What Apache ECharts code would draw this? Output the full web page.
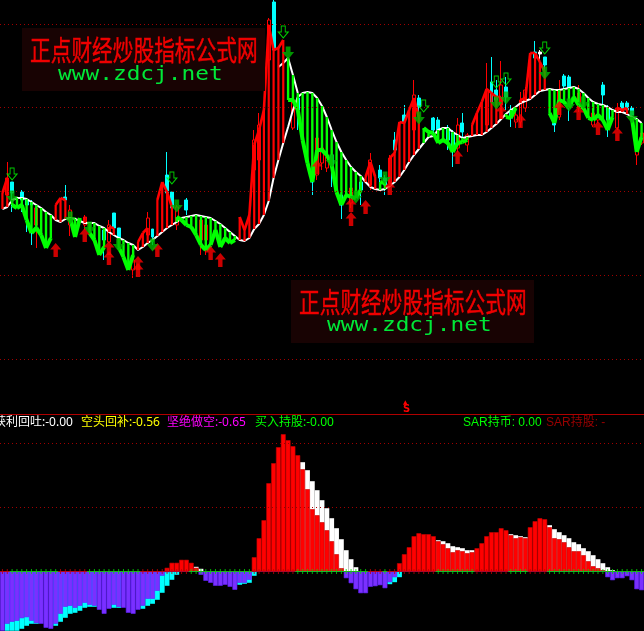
<!DOCTYPE html>
<html><head><meta charset="utf-8">
<style>html,body{margin:0;padding:0;background:#000}#c{width:644px;height:631px}</style>
<script src="https://cdn.jsdelivr.net/npm/echarts@6/dist/echarts.min.js"></script>
</head><body><div id="c"></div>
<script>
// ---- upper panel: index levels, one per trading bar ----
const whiteLine = [206,208,215,217,217,216,213,210,207,203,
200,195,193,196,197,196,194,192,192,192,
189,187,183,180,177,175,172,170,165,168,
172,175,179,183,187,190,193,197,198,199,
200,199,198,197,194,191,187,183,179,175,
174,177,186,191,200,214,237,255,272,288,
305,318,322,323,322,317,309,298,285,273,
263,255,248,243,239,233,228,226,225,226,
229,233,238,245,253,260,266,272,278,279,
285,287,287,283,280,277,278,279,280,280,
283,287,291,296,301,305,308,312,314,316,
320,324,325,326,325,325,326,327,328,326,
322,317,313,311,310,308,305,303,303,301,
298,296,292];
const whiteAltIdx = [57,58,59,60,61];
const whiteAltLevel = [348,352,357,340,322];
const zigLine = [222,237,210,207,210,195,182,187,180,167,
177,210,217,215,197,178,197,198,182,175,
160,168,188,187,168,158,145,160,173,182,
187,173,215,233,223,208,198,195,190,188,
180,170,165,170,185,168,177,172,175,198,
185,200,270,285,305,390,365,367,375,315,
315,305,275,252,233,265,265,260,250,223,
210,220,218,217,225,238,253,238,233,232,
257,262,293,292,305,317,298,287,283,282,
272,275,272,263,272,273,275,290,302,313,
326,322,318,318,298,297,307,315,317,362,
362,353,343,302,292,315,313,307,318,310,
307,297,295,300,295,285,298,307,305,307,
297,263,278];
const trend = "rr"+"ggggggggg"+"rrr"+"ggg"+"r"+"gggg"+"rr"+"gggg"+"rrr"+"g"+"rrrr"+"ggggggggggggg"+"rrrrrrrrrr"+"gggggggggggggggg"+"rrr"+"gg"+"rrrrrrr"+"gggggggggg"+"rrrrrrr"+"ggg"+"rrrrrr"+"gggggggggggggg"+"rrr"+"ggg";

const candleIdx = [1,2,4,5,6,7,13,14,17,21,22,23,24,27,30,31,34,35,36,38,41,42,52,53,55,56,60,61,64,65,66,67,68,70,72,74,76,78,79,80,81,83,85,86,89,90,92,93,94,95,96,100,101,102,103,104,105,106,107,108,110,111,112,114,115,116,117,119,122,123,124,125,127,128,129,130,131,132];
const candleKinds = ["r","c","c","c","c","r","c","r","r","c","r","c","c","r","r","c","c","c","r","c","r","r","r","r","r","c","r","c","c","r","r","r","c","c","r","c","r","c","c","r","c","c","r","c","c","c","c","c","r","c","r","r","c","c","r","c","c","r","r","r","c","w","c","c","r","c","c","r","r","r","c","c","r","c","c","c","r","r"];
const candleHigh = [253,233,225,217,215,210,230,210,200,187,195,202,185,165,203,186,263,223,210,217,200,197,285,302,397,415,315,320,245,278,270,265,265,225,228,235,262,250,240,260,283,310,335,320,298,298,290,285,297,302,282,352,358,335,354,338,310,307,323,328,374,365,358,300,335,341,340,330,307,305,333,310,312,314,314,309,278,288];
const candleTop = [237,233,223,215,213,207,218,205,198,185,190,202,187,155,197,186,240,223,208,215,195,190,275,290,395,413,313,317,243,277,267,258,260,220,227,233,255,245,237,257,275,300,320,317,297,295,287,282,290,292,280,325,333,325,330,328,305,300,315,325,363,363,358,297,325,339,338,322,302,300,330,307,307,312,312,307,272,282];
const candleBottom = [220,222,215,210,210,190,215,190,190,175,173,187,177,145,180,178,222,207,190,205,175,175,245,255,355,365,287,305,233,240,252,247,250,210,212,225,230,237,230,232,265,293,285,308,285,285,275,265,267,283,270,290,313,315,310,318,297,293,293,307,357,361,350,290,298,329,327,307,290,295,320,295,287,305,305,300,260,272];
const candleLow = [218,203,203,183,170,167,210,179,185,155,172,183,175,137,170,170,215,200,185,200,160,160,215,215,325,360,285,285,220,235,245,243,228,196,207,210,225,225,220,227,255,290,275,300,280,280,265,248,263,275,263,285,305,300,305,305,288,287,288,303,350,342,340,283,295,327,294,303,288,292,307,278,285,302,302,298,250,270];

const hollowIdx = [2,35,58,87,102,104,112];
const hollowLevel = [241,237,383,309,333,336,367];
const solidIdx = [2,14,18,24,31,36,59,68,73,79,86,102,104,112,117,120,130];
const solidLevel = [218,197,187,170,170,209,362,254,218,237,297,312,317,342,310,312,298];
const upIdx = [11,17,22,22,28,28,32,43,45,65,72,72,75,80,94,103,107,115,119,123,127];
const upLevel = [165,180,167,157,152,145,165,162,155,248,210,196,208,227,258,303,294,307,302,287,281];
const upperGridLevels = [391,307.5,223.5,139.5,55.5];

// ---- lower panel: histogram values ----
const redBars = [0,0,0,0,0,0,0,0,0,0,
0,0,0,0,0,0,0,0,0,0,
0,0,0,0,0,0,0,0,0,0,
0,0,0,0,3.7,8.7,8.7,11.7,11.7,8.7,
3.7,0,0,0,0,0,0,0,0,0,
0,0,14.3,33.3,51.3,88.3,108.3,124.3,137.3,131.3,
125.3,116.3,102.3,82.3,62.3,56.3,49.3,41.3,30.3,17.3,
3.3,0,0,0,0,0,0,0,0,0,
0,0,8.3,17.3,24.3,35.3,38.3,37.3,37.3,35.3,
30.3,27.3,23.3,19.3,21.3,20.3,18.3,19.3,23.3,28.3,
35.3,39.3,39.3,43.3,41.3,36.3,33.3,34.3,33.3,44.3,
50.3,53.3,52.3,44.3,33.3,32.3,29.3,24.3,20.3,20.3,
16.3,10.3,5.3,3.3,1.3,0,0,0,0,0,
0,0,0];
const whiteBars = [0,0,0,0,0,0,0,0,0,0,
0,0,0,0,0,0,0,0,0,0,
0,0,0,0,0,0,0,0,0,0,
0,0,0,0,0,0,0,0,0,0,
4.7,2.7,0,0,0,0,0,0,0,0,
0,0,0,0,0,0,0,0,0,0,
0,0,109.3,101.3,90.3,81.3,71.3,63.3,53.3,43.3,
32.3,21.3,12.3,4.3,0,0,0,0,0,0,
0,0,0,0,0,0,0,0,0,0,
31.3,30.3,28.3,25.3,24.3,23.3,21.3,21.3,0,0,
0,0,0,0,0,37.3,36.3,35.3,34.3,0,
0,0,0,46.3,42.3,39.3,36.3,33.3,29.3,27.3,
23.3,20.3,16.3,12.3,8.3,4.3,1.3,0,0,0,
0,0,0];
const purpleBars = [-59.3,-52.3,-50.3,-49.3,-46.7,-45.7,-49.3,-51.7,-52.3,-56.3,
-57.3,-52.3,-42.3,-35.3,-34.3,-36.3,-34.3,-31.3,-33.3,-34.3,
-38.3,-42.3,-37.3,-33.3,-35.3,-36.3,-41.3,-42.3,-38.3,-34.3,
-27.3,-27.3,-19.3,-4.3,-0.5,0,0,0,0,0,
0,-3.3,-9.3,-11.3,-14.3,-14.3,-13.3,-15.3,-18.3,-11.3,
-11.3,-8.3,0,0,0,0,0,0,0,0,
0,0,0,0,0,0,0,0,0,0,
0,-6.7,-11.7,-17.7,-21.7,-21.7,-15.3,-14.7,-13.7,-16.7,
-10.7,-5.7,0,0,0,0,0,0,0,0,
0,0,0,0,0,0,0,0,0,0,
0,0,0,0,0,0,0,0,0,0,
0,0,0,0,0,0,0,0,0,0,
0,0,0,0,0,-5.7,-8.7,-6.7,-6.7,-4.7,
-8.7,-17.7,-18.7];
const cyanBars = [0,-59.3,-59.3,-59.3,-57.3,-54.3,-52.3,-52.3,0,0,
0,-54.3,-50.3,-46.3,-42.3,-41.3,-39.3,-36.3,-35.3,-35.3,
0,0,0,-36.3,-36.3,0,0,0,0,-37.3,
-34.3,-32.3,-28.3,-21.3,-14.3,-8.3,-3.3,0,0,0,
0,0,0,0,0,0,0,0,0,-13.3,
-12.3,-11.3,-4.3,0,0,0,0,0,0,0,
0,0,0,0,0,0,0,0,0,0,
0,0,0,0,0,0,0,0,0,0,
-12.7,-10.7,-5.7,0,0,0,0,0,0,0,
0,0,0,0,0,0,0,0,0,0,
0,0,0,0,0,0,0,0,0,0,
0,0,0,0,0,0,0,0,0,0,
0,0,0,0,0,0,0,0,0,0,
0,0,0];
const zeroFlags = "rr"+"gggggggggg"+"rrrrrr"+"ggggggggggg"+"rrrrrrrrrr"+"ggggggggggggg"+"rrrrrrrrr"+"ggggggggggggggg"+"rrr"+"g"+"rrrrrrrrrr"+"gggggggg"+"rrrrrrr"+"gggg"+"rrrr"+"gggggggggggggggggggg";
const lowerGridLevels = [64,128];

// ---- texts ----
const legendTexts = ["获利回吐:-0.00","空头回补:-0.56","坚绝做空:-0.65","买入持股:-0.00","SAR持币: 0.00","SAR持股: -"];
const legendColors = ["#ffffff","#ffff00","#ff00ff","#00ff00","#00ff00","#990000"];
const legendX = [-6,81,167,255,463,546];
const wmTitle = "正点财经炒股指标公式网";
const wmUrl = "www.zdcj.net";

// ---- build ----
const cats = whiteLine.map((_, i) => String(i + 1));
const alt = {};
whiteAltIdx.forEach((k, j) => alt[k] = whiteAltLevel[j]);
const hatchData = zigLine.map((z, i) => {
  const g = trend[i] === 'g';
  const base = g && alt[i] != null ? alt[i] : whiteLine[i];
  const prev = i > 0 && trend[i - 1] === trend[i] ? zigLine[i - 1] : null;
  return [i, z, base, prev === null ? NaN : prev, g ? 1 : 0];
});
const candleData = cats.map(() => ['-', '-', '-', '-']);
candleIdx.forEach((k, j) => {
  const kind = candleKinds[j];
  const up = kind !== 'c';
  candleData[k] = {
    value: up ? [candleBottom[j], candleTop[j], candleLow[j], candleHigh[j]]
              : [candleTop[j], candleBottom[j], candleLow[j], candleHigh[j]],
    itemStyle: kind === 'c' ? {color: '#00ffff', color0: '#00ffff', borderColor: '#00ffff', borderColor0: '#00ffff'}
      : kind === 'w' ? {color: '#fff', color0: '#fff', borderColor: '#fff', borderColor0: '#fff'}
      : {color: 'transparent', color0: 'transparent', borderColor: '#ff0000', borderColor0: '#ff0000'}
  };
});
const pairs = (a, b) => a.map((k, j) => [k, b[j]]);
const dotted = {type: [1, 3], color: '#a00000', width: 1};
const gridMark = lv => ({silent: true, symbol: 'none', label: {show: false}, animation: false,
  lineStyle: dotted, data: lv.map(v => ({yAxis: v}))});

const wmBlock = (bx, by, tx, ty, ux, uy) => [
  {type: 'rect', z: 5, shape: {x: bx, y: by, width: 243, height: 63}, style: {fill: '#180303'}},
  {type: 'text', z: 6, x: tx, y: ty, scaleX: 1, scaleY: 1.36, style: {text: wmTitle, fill: '#f00000', stroke: '#f00000', lineWidth: 0.35, font: '20.7px "Noto Sans CJK SC"', textVerticalAlign: 'top'}},
  {type: 'text', z: 6, x: ux, y: uy, scaleX: 1.14, scaleY: 1, style: {text: wmUrl, fill: '#00e838', font: '20px "DejaVu Sans Mono"', textVerticalAlign: 'top'}}
];

const chart = echarts.init(document.getElementById('c'), null, {renderer: 'canvas'});
chart.setOption({
  animation: false,
  backgroundColor: '#000',
  grid: [
    {left: 0, width: 644, top: 0, height: 414, show: false},
    {left: 0, width: 644, top: 414, height: 217, show: false}
  ],
  xAxis: [
    {type: 'category', gridIndex: 0, data: cats, show: false, boundaryGap: true},
    {type: 'category', gridIndex: 1, data: cats, position: 'top', boundaryGap: true,
     axisLine: {show: true, onZero: false, lineStyle: {color: '#b00000', width: 1}}, axisTick: {show: false}, axisLabel: {show: false}}
  ],
  yAxis: [
    {type: 'value', gridIndex: 0, min: 1, max: 415, show: false, splitLine: {show: false}},
    {type: 'value', gridIndex: 1, min: -59.5, max: 157.5, show: false, splitLine: {show: false}}
  ],
  series: [
    {type: 'line', name: 'grid', xAxisIndex: 0, yAxisIndex: 0, data: [], markLine: gridMark(upperGridLevels)},
    {type: 'candlestick', xAxisIndex: 0, yAxisIndex: 0, data: candleData, barWidth: 3.4, z: 2,
     itemStyle: {borderWidth: 1}},
    {type: 'line', xAxisIndex: 0, yAxisIndex: 0, data: whiteLine, symbol: 'none', z: 3,
     lineStyle: {color: '#fff', width: 2}},
    {type: 'line', xAxisIndex: 0, yAxisIndex: 0, data: pairs(whiteAltIdx, whiteAltLevel), symbol: 'none', z: 3,
     lineStyle: {color: '#fff', width: 2}},
    {type: 'custom', xAxisIndex: 0, yAxisIndex: 0, z: 4, data: hatchData,
     encode: {x: 0, y: [1, 2]},
     renderItem: (p, api) => {
       const i = api.value(0), a = api.coord([i, api.value(1)]), b = api.coord([i, api.value(2)]);
       const g = api.value(4) === 1, col = g ? '#00ff00' : '#ff0000';
       const kids = [{type: 'line', shape: {x1: a[0], y1: a[1], x2: b[0], y2: b[1]},
         style: {stroke: col, lineWidth: g ? 2.4 : 2.2}}];
       const pv = api.value(3);
       if (!isNaN(pv)) {
         const c = api.coord([i - 1, pv]);
         kids.push({type: 'line', shape: {x1: c[0], y1: c[1], x2: a[0], y2: a[1]},
           style: {stroke: col, lineWidth: g ? 4 : 2.6}});
       }
       return {type: 'group', children: kids};
     }},
    {type: 'scatter', xAxisIndex: 0, yAxisIndex: 0, z: 6, data: pairs(upIdx, upLevel),
     symbol: 'path://M5 0L10 6L7 6L7 13L3 13L3 6L0 6Z', symbolSize: [11, 14], itemStyle: {color: '#ff0000'}},
    {type: 'scatter', xAxisIndex: 0, yAxisIndex: 0, z: 6, data: pairs(solidIdx, solidLevel),
     symbol: 'path://M3 0L7 0L7 5L10 5L5 12L0 5L3 5Z', symbolSize: [12, 13], itemStyle: {color: '#00b800'}},
    {type: 'scatter', xAxisIndex: 0, yAxisIndex: 0, z: 6, data: pairs(hollowIdx, hollowLevel),
     symbol: 'path://M3 0L7 0L7 6L10 6L5 12L0 6L3 6Z', symbolSize: [10, 12],
     itemStyle: {color: 'transparent', borderColor: '#00ff00', borderWidth: 1}},

    {type: 'line', xAxisIndex: 1, yAxisIndex: 1, data: [], markLine: gridMark(lowerGridLevels)},
    {type: 'bar', xAxisIndex: 1, yAxisIndex: 1, data: whiteBars, barWidth: '100%', barGap: '-100%', z: 2, itemStyle: {color: '#ffffff'}},
    {type: 'bar', xAxisIndex: 1, yAxisIndex: 1, data: redBars, barWidth: '100%', barGap: '-100%', z: 3, itemStyle: {color: '#ff0000', borderColor: '#c80000', borderWidth: 0.6}},
    {type: 'bar', xAxisIndex: 1, yAxisIndex: 1, data: cyanBars, barWidth: '100%', barGap: '-100%', z: 2, itemStyle: {color: '#00ffff'}},
    {type: 'bar', xAxisIndex: 1, yAxisIndex: 1, data: purpleBars, barWidth: '100%', barGap: '-100%', z: 3, itemStyle: {color: '#7a30ff', borderColor: '#6020ff', borderWidth: 0.6}},
    {type: 'scatter', xAxisIndex: 1, yAxisIndex: 1, z: 5,
     data: whiteBars.map((_, i) => ({value: [i, 0], itemStyle: {color: zeroFlags[i] === 'g' ? '#00e000' : '#c00000'}})),
     symbol: 'path://M2 0L3 0L3 2L5 2L5 3L3 3L3 5L2 5L2 3L0 3L0 2L2 2Z', symbolSize: 5}
  ],
  graphic: {elements: [
    ...wmBlock(22, 28, 30, 36, 58, 65),
    ...wmBlock(291, 280, 299, 288, 327, 316),
    ...legendTexts.map((t, i) => ({type: 'text', z: 8, x: legendX[i], y: 417,
      style: {text: t, fill: legendColors[i], font: (i < 4 ? '12px "Noto Sans","Noto Sans CJK SC"' : '12px "Liberation Sans","Noto Sans CJK SC"'), textVerticalAlign: 'top'}})),
    {type: 'text', z: 8, x: 403, y: 399, style: {text: '▲', fill: '#ff0000', font: '6px "DejaVu Sans"', textVerticalAlign: 'top'}},
    {type: 'text', z: 8, x: 403, y: 404, style: {text: 'S', fill: '#ff0000', font: 'bold 10px "DejaVu Sans"', textVerticalAlign: 'top'}}
  ]}
});
</script></body></html>
